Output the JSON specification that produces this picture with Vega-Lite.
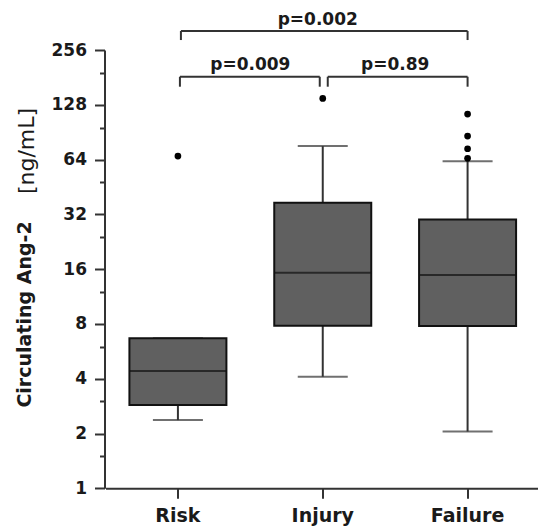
{
  "$schema": "https://vega.github.io/schema/vega-lite/v6.json",
  "autosize": {"type": "none"},
  "width": 434.5,
  "height": 438.3,
  "padding": {"left": 105.5, "top": 50, "right": 0, "bottom": 42.7},
  "background": "white",
  "config": {
    "font": "DejaVu Sans",
    "view": {"stroke": null},
    "axis": {"grid": false, "tickWidth": 2, "tickColor": "#333333", "domainColor": "#333333", "domainWidth": 2,
             "labelColor": "#1a1a1a", "labelFont": "DejaVu Sans", "labelFontWeight": "bold", "titleColor": "#1a1a1a"},
    "axisX": {"labelFontSize": 19, "labelPadding": 8, "tickSize": 10, "labelAngle": 0},
    "axisY": {"labelFontSize": 17, "labelPadding": 8, "tickSize": 10, "labelFlush": false, "labelOverlap": false}
  },
  "datasets": {
    "boxes": [
      {"g": "Risk", "lo": 2.37, "q1": 2.87, "med": 4.41, "q3": 6.67, "hi": 6.67},
      {"g": "Injury", "lo": 4.10, "q1": 7.82, "med": 15.3, "q3": 37.1, "hi": 75.9},
      {"g": "Failure", "lo": 2.05, "q1": 7.79, "med": 14.85, "q3": 30.0, "hi": 62.6}
    ],
    "outliers": [
      {"g": "Risk", "v": 66.9},
      {"g": "Injury", "v": 138.8},
      {"g": "Failure", "v": 113.8},
      {"g": "Failure", "v": 86.2},
      {"g": "Failure", "v": 73.4},
      {"g": "Failure", "v": 65.0}
    ],
    "brackets": [
      {"id": "all", "x1": "Risk", "x2": "Failure", "y": 325.6, "yEnd": 290.4},
      {"id": "L", "x1": "Risk", "x2": "Injury", "y": 182.5, "yEnd": 160.9},
      {"id": "R", "x1": "Injury", "x2": "Failure", "y": 182.5, "yEnd": 160.9}
    ],
    "labels": [
      {"pos": "center", "g": "Injury", "ly": 351.2, "label": "p=0.002"},
      {"pos": "edge", "g": "Risk", "ly": 198.8, "label": "p=0.009"},
      {"pos": "edge", "g": "Injury", "ly": 198.8, "label": "p=0.89"}
    ]
  },
  "resolve": {"scale": {"y": "shared", "x": "shared"}, "axis": {"y": "independent"}},
  "layer": [
    {
      "data": {"name": "boxes"},
      "mark": {"type": "rule", "color": "#333333", "strokeWidth": 2},
      "encoding": {
        "x": {"field": "g", "type": "nominal", "sort": null, "scale": {"domain": ["Risk", "Injury", "Failure"], "paddingInner": 0, "paddingOuter": 0}, "axis": {"title": null}},
        "y": {"field": "lo", "type": "quantitative", "scale": {"type": "log", "base": 2, "domain": [1, 256], "nice": false}, "axis": null},
        "y2": {"field": "hi"}
      }
    },
    {
      "data": {"name": "boxes"},
      "mark": {"type": "tick", "color": "#333333", "size": 50, "thickness": 2},
      "encoding": {
        "x": {"field": "g", "type": "nominal", "sort": null, "scale": {"domain": ["Risk", "Injury", "Failure"], "paddingInner": 0, "paddingOuter": 0}, "axis": {"title": null}},
        "y": {"field": "lo", "type": "quantitative", "scale": {"type": "log", "base": 2, "domain": [1, 256], "nice": false}, "axis": null}
      }
    },
    {
      "data": {"name": "boxes"},
      "mark": {"type": "tick", "color": "#333333", "size": 50, "thickness": 2},
      "encoding": {
        "x": {"field": "g", "type": "nominal", "sort": null, "scale": {"domain": ["Risk", "Injury", "Failure"], "paddingInner": 0, "paddingOuter": 0}, "axis": {"title": null}},
        "y": {"field": "hi", "type": "quantitative", "scale": {"type": "log", "base": 2, "domain": [1, 256], "nice": false}, "axis": null}
      }
    },
    {
      "data": {"name": "boxes"},
      "mark": {"type": "bar", "size": 97, "fill": "#606060", "stroke": "#111111", "strokeWidth": 2},
      "encoding": {
        "x": {"field": "g", "type": "nominal", "sort": null, "scale": {"domain": ["Risk", "Injury", "Failure"], "paddingInner": 0, "paddingOuter": 0}, "axis": {"title": null}},
        "y": {"field": "q3", "type": "quantitative", "scale": {"type": "log", "base": 2, "domain": [1, 256], "nice": false},
              "axis": {"orient": "left", "values": [1, 2, 4, 8, 16, 32, 64, 128, 256], "format": "d", "offset": 1,
                       "labelFontSize": 17, "labelFontWeight": "bold",
                       "title": "Circulating Ang-2", "titleFontSize": 19, "titleFontWeight": "bold",
                       "titleX": -80, "titleY": 264, "titleAngle": 270, "titleAlign": "center", "titleBaseline": "middle"}},
        "y2": {"field": "q1"}
      }
    },
    {
      "data": {"name": "boxes"},
      "mark": {"type": "tick", "color": "#111111", "size": 97, "thickness": 2},
      "encoding": {
        "x": {"field": "g", "type": "nominal", "sort": null, "scale": {"domain": ["Risk", "Injury", "Failure"], "paddingInner": 0, "paddingOuter": 0}, "axis": {"title": null}},
        "y": {"field": "med", "type": "quantitative", "scale": {"type": "log", "base": 2, "domain": [1, 256], "nice": false}, "axis": null}
      }
    },
    {
      "data": {"name": "outliers"},
      "mark": {"type": "point", "filled": true, "color": "#000000", "size": 45, "opacity": 1},
      "encoding": {
        "x": {"field": "g", "type": "nominal", "sort": null, "scale": {"domain": ["Risk", "Injury", "Failure"], "paddingInner": 0, "paddingOuter": 0}, "axis": {"title": null}},
        "y": {"field": "v", "type": "quantitative", "scale": {"type": "log", "base": 2, "domain": [1, 256], "nice": false},
              "axis": {"orient": "left", "values": [1.5, 3, 6, 12, 24, 48, 96, 192], "offset": 1, "labels": false, "domain": false,
                       "tickSize": 5,
                       "title": "[ng/mL]", "titleFontSize": 22, "titleFontWeight": "normal",
                       "titleX": -78, "titleY": 100.5, "titleAngle": 270, "titleAlign": "center", "titleBaseline": "middle"}}
      }
    },
    {
      "data": {"name": "brackets"},
      "transform": [{"filter": "datum.id === 'all'"}],
      "mark": {"type": "rule", "color": "#333333", "strokeWidth": 2, "xOffset": 3},
      "encoding": {
        "x": {"field": "x1", "type": "nominal", "sort": null, "scale": {"domain": ["Risk", "Injury", "Failure"], "paddingInner": 0, "paddingOuter": 0}, "axis": {"title": null}},
        "x2": {"field": "x2"},
        "y": {"field": "y", "type": "quantitative", "scale": {"type": "log", "base": 2, "domain": [1, 256], "nice": false}, "axis": null}
      }
    },
    {
      "data": {"name": "brackets"},
      "transform": [{"filter": "datum.id === 'L'"}],
      "mark": {"type": "rule", "color": "#333333", "strokeWidth": 2, "xOffset": 2, "x2Offset": -3},
      "encoding": {
        "x": {"field": "x1", "type": "nominal", "sort": null, "scale": {"domain": ["Risk", "Injury", "Failure"], "paddingInner": 0, "paddingOuter": 0}, "axis": {"title": null}},
        "x2": {"field": "x2"},
        "y": {"field": "y", "type": "quantitative", "scale": {"type": "log", "base": 2, "domain": [1, 256], "nice": false}, "axis": null}
      }
    },
    {
      "data": {"name": "brackets"},
      "transform": [{"filter": "datum.id === 'R'"}],
      "mark": {"type": "rule", "color": "#333333", "strokeWidth": 2, "xOffset": 5},
      "encoding": {
        "x": {"field": "x1", "type": "nominal", "sort": null, "scale": {"domain": ["Risk", "Injury", "Failure"], "paddingInner": 0, "paddingOuter": 0}, "axis": {"title": null}},
        "x2": {"field": "x2"},
        "y": {"field": "y", "type": "quantitative", "scale": {"type": "log", "base": 2, "domain": [1, 256], "nice": false}, "axis": null}
      }
    },
    {
      "data": {"name": "brackets"},
      "transform": [{"filter": "datum.id === 'all'"}],
      "mark": {"type": "rule", "color": "#333333", "strokeWidth": 2, "xOffset": 3},
      "encoding": {
        "x": {"field": "x1", "type": "nominal", "sort": null, "scale": {"domain": ["Risk", "Injury", "Failure"], "paddingInner": 0, "paddingOuter": 0}, "axis": {"title": null}},
        "y": {"field": "y", "type": "quantitative", "scale": {"type": "log", "base": 2, "domain": [1, 256], "nice": false}, "axis": null},
        "y2": {"field": "yEnd"}
      }
    },
    {
      "data": {"name": "brackets"},
      "transform": [{"filter": "datum.id === 'L'"}],
      "mark": {"type": "rule", "color": "#333333", "strokeWidth": 2, "xOffset": 2},
      "encoding": {
        "x": {"field": "x1", "type": "nominal", "sort": null, "scale": {"domain": ["Risk", "Injury", "Failure"], "paddingInner": 0, "paddingOuter": 0}, "axis": {"title": null}},
        "y": {"field": "y", "type": "quantitative", "scale": {"type": "log", "base": 2, "domain": [1, 256], "nice": false}, "axis": null},
        "y2": {"field": "yEnd"}
      }
    },
    {
      "data": {"name": "brackets"},
      "transform": [{"filter": "datum.id !== 'L'"}],
      "mark": {"type": "rule", "color": "#333333", "strokeWidth": 2},
      "encoding": {
        "x": {"field": "x2", "type": "nominal", "sort": null, "scale": {"domain": ["Risk", "Injury", "Failure"], "paddingInner": 0, "paddingOuter": 0}, "axis": {"title": null}},
        "y": {"field": "y", "type": "quantitative", "scale": {"type": "log", "base": 2, "domain": [1, 256], "nice": false}, "axis": null},
        "y2": {"field": "yEnd"}
      }
    },
    {
      "data": {"name": "brackets"},
      "transform": [{"filter": "datum.id === 'L'"}],
      "mark": {"type": "rule", "color": "#333333", "strokeWidth": 2, "xOffset": -3},
      "encoding": {
        "x": {"field": "x2", "type": "nominal", "sort": null, "scale": {"domain": ["Risk", "Injury", "Failure"], "paddingInner": 0, "paddingOuter": 0}, "axis": {"title": null}},
        "y": {"field": "y", "type": "quantitative", "scale": {"type": "log", "base": 2, "domain": [1, 256], "nice": false}, "axis": null},
        "y2": {"field": "yEnd"}
      }
    },
    {
      "data": {"name": "brackets"},
      "transform": [{"filter": "datum.id === 'R'"}],
      "mark": {"type": "rule", "color": "#333333", "strokeWidth": 2, "xOffset": 5},
      "encoding": {
        "x": {"field": "x1", "type": "nominal", "sort": null, "scale": {"domain": ["Risk", "Injury", "Failure"], "paddingInner": 0, "paddingOuter": 0}, "axis": {"title": null}},
        "y": {"field": "y", "type": "quantitative", "scale": {"type": "log", "base": 2, "domain": [1, 256], "nice": false}, "axis": null},
        "y2": {"field": "yEnd"}
      }
    },
    {
      "data": {"name": "labels"},
      "transform": [{"filter": "datum.pos === 'center'"}],
      "mark": {"type": "text", "fontSize": 17, "fontWeight": "bold", "color": "#1a1a1a", "align": "center", "baseline": "alphabetic", "dx": -5},
      "encoding": {
        "x": {"field": "g", "type": "nominal", "sort": null, "scale": {"domain": ["Risk", "Injury", "Failure"], "paddingInner": 0, "paddingOuter": 0}, "axis": {"title": null}},
        "y": {"field": "ly", "type": "quantitative", "scale": {"type": "log", "base": 2, "domain": [1, 256], "nice": false}, "axis": null},
        "text": {"field": "label"}
      }
    },
    {
      "data": {"name": "labels"},
      "transform": [{"filter": "datum.pos === 'edge'"}],
      "mark": {"type": "text", "fontSize": 17, "fontWeight": "bold", "color": "#1a1a1a", "align": "center", "baseline": "alphabetic"},
      "encoding": {
        "x": {"field": "g", "type": "nominal", "sort": null, "bandPosition": 1, "scale": {"domain": ["Risk", "Injury", "Failure"], "paddingInner": 0, "paddingOuter": 0}, "axis": {"title": null}},
        "y": {"field": "ly", "type": "quantitative", "scale": {"type": "log", "base": 2, "domain": [1, 256], "nice": false}, "axis": null},
        "text": {"field": "label"}
      }
    }
  ]
}
